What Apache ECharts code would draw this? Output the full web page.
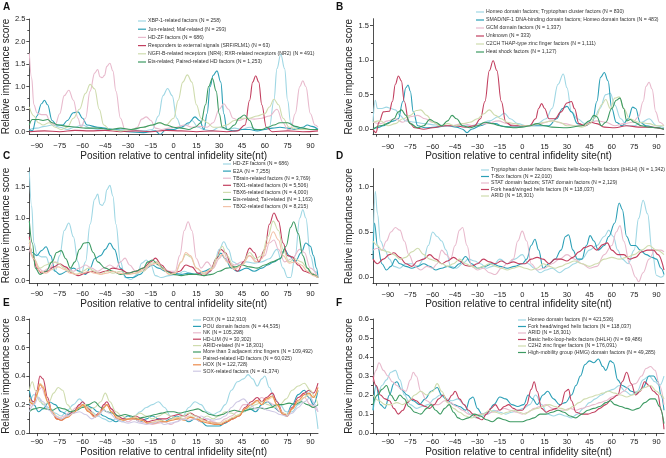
<!DOCTYPE html>
<html>
<head>
<meta charset="utf-8">
<script src="https://cdn.jsdelivr.net/npm/echarts@6/dist/echarts.min.js"></script>
<style>
  html, body { margin: 0; padding: 0; background: #fff; }
  #main { width: 666px; height: 458px; }
</style>
</head>
<body>
<div id="main"></div>
<script>
// == Tick labels ==============================================================

const xTicks = [-90, -75, -60, -45, -30, -15, 0, 15, 30, 45, 60, 75, 90]
const xMinorTicks = [-97.5, -82.5, -67.5, -52.5, -37.5, -22.5, -7.5, 7.5, 22.5, 37.5, 52.5, 67.5, 82.5]
const yTicksA = [0, 0.5, 1, 1.5, 2, 2.5]
const yMinorA = [0.25, 0.75, 1.25, 1.75, 2.25]
const yTicksBC = [0, 0.5, 1, 1.5]
const yMinorBC = [0.25, 0.75, 1.25, 1.75]
const yTicksD = [0, 0.5, 1]
const yMinorD = [0.25, 0.75]
const yTicksE = [0, 0.2, 0.4, 0.6, 0.8]
const yMinorE = [0.1, 0.3, 0.5, 0.7]
const yTicksF = [0, 0.1, 0.2, 0.3, 0.4, 0.5, 0.6]
const yMinorF = [0.05, 0.15, 0.25, 0.35, 0.45, 0.55]

// == Legend names =============================================================

const namesA = ['XBP-1-related factors (N = 258)', 'Jun-related; Maf-related (N = 293)', 'HD-ZF factors (N = 686)',
  'Responders to external signals (SRF/RLM1) (N = 63)', 'NGFI-B-related receptors (NR4); RXR-related receptors (NR2) (N = 491)',
  'Ets-related; Paired-related HD factors (N = 1,253)']
const namesB = ['Homeo domain factors; Tryptophan cluster factors (N = 830)', 'SMAD/NF-1 DNA-binding domain factors; Homeo domain factors (N = 483)',
  'GCM domain factors (N = 1,337)', 'Unknown (N = 333)', 'C2CH THAP-type zinc finger factors (N = 1,111)', 'Heat shock factors (N = 1,127)']
const namesC = ['HD-ZF factors (N = 686)', 'E2A (N = 7,255)', 'TBrain-related factors (N = 3,769)', 'TBX1-related factors (N = 5,506)',
  'TBX6-related factors (N = 4,000)', 'Ets-related; Tal-related (N = 1,163)', 'TBX2-related factors (N = 8,215)']
const namesD = ['Tryptophan cluster factors; Basic helix-loop-helix factors (bHLH) (N = 1,342)', 'T-Box factors (N = 22,010)',
  'STAT domain factors; STAT domain factors (N = 2,129)', 'Fork head/winged helix factors (N = 118,037)', 'ARID (N = 18,301)']
const namesE = ['FOX (N = 112,910)', 'POU domain factors (N = 44,535)', 'NK (N = 105,298)', 'HD-LIM (N = 30,302)', 'ARID-related (N = 18,301)',
  'More than 3 adjacent zinc fingers (N = 109,492)', 'Paired-related HD factors (N = 60,025)', 'HOX (N = 122,728)', 'SOX-related factors (N = 41,374)']
const namesF = ['Homeo domain factors (N = 421,536)', 'Fork head/winged helix factors (N = 118,037)', 'ARID (N = 18,301)',
  'Basic helix-loop-helix factors (bHLH) (N = 69,486)', 'C2H2 zinc finger factors (N = 176,091)', 'High-mobility group (HMG) domain factors (N = 49,285)']

// == Series values: [position, score] =========================================

const hdzf = [[-95,1.74],[-93.5,1.2],[-92,0.6],[-90,0.42],[-87,0.38],[-84,0.38],[-81,0.2],[-78,0.15],[-75,0.4],[-72,0.8],[-69,0.92],[-66,0.7],[-63,0.3],[-61,0.1],[-58,0.3],[-55,0.9],[-52,1.3],[-50,1.38],[-48.5,1.22],[-47,1.2],[-45.5,1.25],[-44,1.45],[-42,1.52],[-40,1.35],[-38,0.9],[-35,0.3],[-32,0.05],[-28,0.02],[-24,0.1],[-21,0.28],[-18,0.33],[-15,0.25],[-12,0.08],[-8,0.05],[-3,0.08],[2,0.1],[7,0.15],[12,0.1],[17,0.12],[22,0.1],[26,0.2],[30,0.5],[33,0.62],[36,0.5],[39,0.3],[43,0.25],[48,0.3],[53,0.28],[58,0.3],[63,0.35],[68,0.5],[72,0.2],[75,0.05],[77,0.05],[80,0.4],[83,1.0],[85,1.13],[87,1.0],[90,0.4],[93,0.15],[95,0.1]]

const aXbp1 = [[-95,0.05],[-90,0.08],[-85,0.12],[-80,0.15],[-75,0.1],[-70,0.05],[-65,0.1],[-60,0.15],[-55,0.08],[-50,0.05],[-45,0.08],[-40,0.05],[-30,0.05],[-20,0.02],[-14,0.05],[-10,0.35],[-7,0.8],[-4,0.96],[-1,0.8],[2,0.3],[5,0.1],[9,0.15],[12,0.25],[16,0.1],[20,0.05],[25,0.02],[30,0.1],[35,0.05],[40,0.08],[45,0.05],[50,0.1],[55,0.05],[60,0.05],[63,0.1],[66,0.7],[68,1.4],[70.5,1.72],[73,1.4],[75,0.7],[77,0.2],[80,0.1],[85,0.05],[90,0.05],[95,0.05]]
const aJun = [[-95,0.05],[-93,0.02],[-90,0.35],[-87,0.62],[-85,0.7],[-83,0.6],[-80,0.25],[-77,0.15],[-73,0.15],[-70,0.25],[-66,0.42],[-63,0.44],[-60,0.3],[-57,0.15],[-50,0.1],[-40,0.05],[-30,0.0],[-20,-0.02],[-12,0.02],[-9,-0.06],[-5,0.05],[0,0.05],[5,0.1],[10,0.2],[14,0.33],[17,0.25],[20,0.05],[22,0.4],[24,1.0],[26,1.25],[28.5,1.35],[31,1.1],[33,0.4],[35,0.05],[40,0.02],[45,0.05],[50,0.05],[55,0.02],[60,0.05],[65,0.08],[70,0.1],[75,0.08],[80,0.05],[85,0.1],[88,0.15],[91,0.12],[95,0.05]]
const aSrf = [[-95,0.0],[-85,0.02],[-75,0.0],[-65,0.03],[-55,0.02],[-45,0.03],[-35,0.0],[-25,0.02],[-15,0.0],[-5,0.03],[5,0.02],[15,0.0],[25,0.02],[35,0.0],[42,0.02],[47,0.15],[50,0.7],[52,1.1],[54,1.24],[56,1.1],[58,0.6],[61,0.1],[65,0.0],[75,0.02],[85,0.0],[95,0.02]]
const aNgfi = [[-95,0.55],[-92,0.35],[-89,0.2],[-86,0.15],[-82,0.2],[-78,0.1],[-74,0.05],[-70,0.1],[-66,0.3],[-62,0.5],[-58,0.85],[-55,1.05],[-52,0.95],[-49,0.5],[-46,0.15],[-42,0.05],[-35,0.02],[-28,0.05],[-20,0.1],[-14,0.15],[-10,0.2],[-5,0.15],[0,0.3],[3,0.7],[6,1.1],[9,1.26],[12,1.1],[15,0.6],[18,0.3],[22,0.2],[26,0.1],[30,0.1],[35,0.15],[40,0.25],[45,0.3],[50,0.3],[55,0.35],[60,0.4],[63,0.55],[66,0.72],[69,0.6],[72,0.3],[76,0.1],[82,0.05],[88,0.05],[95,0.05]]
const aEts = [[-95,0.15],[-93,0.27],[-89,0.27],[-86,0.25],[-83,0.27],[-80,0.2],[-76,0.15],[-70,0.12],[-64,0.1],[-58,0.08],[-50,0.08],[-42,0.05],[-35,0.08],[-28,0.05],[-20,0.1],[-14,0.15],[-9,0.2],[-5,0.15],[0,0.1],[5,0.08],[10,0.05],[14,0.1],[18,0.2],[21,0.6],[23,1.0],[25.5,1.18],[28,0.9],[30,0.4],[32,0.1],[36,0.05],[40,0.15],[43,0.3],[46.5,0.37],[50,0.25],[53,0.05],[58,0.05],[62,0.1],[66,0.15],[70,0.2],[75,0.2],[80,0.12],[85,0.08],[90,0.05],[95,0.05]]

const bHomeoTrp = [[-100,0.1],[-98.5,0.42],[-97,0.3],[-94,0.3],[-91,0.32],[-88,0.3],[-85,0.28],[-82,0.2],[-78,0.12],[-72,0.1],[-65,0.08],[-58,0.06],[-50,0.05],[-42,0.05],[-35,0.05],[-28,0.08],[-22,0.12],[-16,0.18],[-12,0.23],[-8,0.15],[-3,0.08],[3,0.05],[10,0.08],[16,0.15],[20,0.3],[24,0.65],[27.5,0.8],[30,0.6],[33,0.25],[37,0.15],[42,0.08],[48,0.15],[52,0.3],[56,0.5],[59,0.52],[62,0.35],[66,0.15],[70,0.05],[75,0.05],[80,0.1],[85,0.15],[90,0.05],[95,0.02]]
const bSmad = [[-100,0.0],[-97,0.02],[-93,0.05],[-89,0.1],[-86,0.12],[-83,0.15],[-80,0.4],[-78,0.6],[-76.5,0.64],[-75,0.55],[-73,0.25],[-70,0.05],[-65,0.02],[-58,0.03],[-50,0.05],[-44,0.03],[-40,0.0],[-37,-0.05],[-34,0.0],[-28,0.05],[-22,0.1],[-18,0.08],[-13,0.04],[-5,0.03],[5,0.05],[12,0.05],[18,0.05],[23,0.15],[27,0.3],[30,0.33],[33,0.25],[37,0.08],[42,0.05],[47,0.1],[50,0.4],[52.5,0.75],[55,0.82],[57.5,0.7],[60,0.3],[63,0.1],[67,0.05],[71,0.15],[74,0.32],[76,0.3],[79,0.1],[83,0.05],[90,0.02],[95,0.0]]
const bGcm = [[-100,0.1],[-95,0.08],[-90,0.12],[-85,0.15],[-80,0.1],[-75,0.18],[-70,0.2],[-65,0.15],[-60,0.1],[-55,0.05],[-48,0.05],[-40,0.08],[-32,0.05],[-24,0.08],[-16,0.12],[-10,0.08],[-3,0.05],[5,0.05],[12,0.08],[20,0.12],[28,0.08],[36,0.05],[44,0.08],[50,0.12],[56,0.1],[62,0.05],[68,0.08],[74,0.1],[78,0.18],[81,0.4],[83,0.62],[85,0.68],[87,0.58],[89.5,0.25],[92,0.1],[95,0.05]]
const bUnknown = [[-100,0.0],[-98,-0.05],[-96,0.1],[-93,0.25],[-89,0.26],[-87,0.4],[-85,0.65],[-83,0.77],[-81,0.7],[-79,0.4],[-76,0.1],[-72,0.02],[-66,0.0],[-60,0.02],[-52,0.05],[-45,0.05],[-38,0.03],[-32,0.05],[-28,0.15],[-25,0.4],[-22,0.85],[-19.5,0.99],[-17,0.85],[-14,0.4],[-11,0.1],[-7,0.05],[0,0.05],[5,0.05],[9,0.15],[11,0.3],[13,0.37],[15,0.3],[18,0.15],[22,0.15],[26,0.25],[30,0.38],[33,0.4],[35,0.3],[38,0.08],[42,0.05],[46,0.1],[50,0.08],[55,0.03],[62,0.02],[70,0.05],[78,0.03],[86,0.03],[95,0.0]]
const bThap = [[-100,0.1],[-95,0.12],[-90,0.05],[-85,0.08],[-80,0.15],[-75,0.2],[-71,0.27],[-68,0.28],[-64,0.2],[-60,0.1],[-55,0.05],[-50,0.08],[-45,0.05],[-40,0.08],[-35,0.1],[-30,0.15],[-26,0.22],[-22,0.28],[-18,0.2],[-14,0.15],[-10,0.1],[-5,0.08],[0,0.05],[5,0.05],[10,0.08],[15,0.1],[20,0.12],[25,0.1],[30,0.05],[35,0.05],[40,0.03],[45,0.08],[50,0.2],[53,0.35],[56,0.43],[59,0.3],[62,0.45],[65,0.47],[68,0.3],[72,0.15],[78,0.1],[85,0.08],[90,0.05],[95,0.05]]
const bHeat = [[-100,0.0],[-95,0.05],[-90,0.08],[-86,0.15],[-83,0.25],[-81,0.28],[-78,0.2],[-75,0.08],[-70,0.02],[-66,0.05],[-62,0.14],[-58,0.1],[-54,0.05],[-50,0.12],[-47,0.2],[-44,0.15],[-40,0.05],[-35,0.02],[-30,0.05],[-25,0.1],[-20,0.08],[-15,0.05],[-10,0.03],[-5,0.02],[0,0.03],[5,0.05],[10,0.08],[15,0.05],[20,0.03],[30,0.02],[40,0.05],[45,0.12],[48,0.2],[50,0.18],[53,0.05],[56,0.1],[60,0.3],[63,0.42],[65.5,0.45],[68,0.3],[70,0.12],[72.5,0.14],[75,0.1],[80,0.05],[85,0.03],[90,0.02],[95,0.0]]

const cE2a = [[-95,0.6],[-93,0.45],[-90,0.4],[-87,0.48],[-84,0.54],[-81,0.4],[-78,0.15],[-75,0.1],[-70,0.15],[-66,0.2],[-62,0.15],[-58,0.1],[-55,0.2],[-52,0.35],[-48,0.4],[-45,0.5],[-42,0.6],[-39,0.5],[-35,0.2],[-31,0.05],[-27,0.05],[-22,0.1],[-18,0.2],[-14,0.25],[-10,0.2],[-5,0.15],[0,0.12],[5,0.1],[10,0.12],[15,0.1],[20,0.15],[25,0.2],[28,0.35],[31,0.44],[34,0.35],[38,0.2],[42,0.15],[48,0.2],[53,0.15],[58,0.2],[62,0.25],[66,0.3],[70,0.35],[73,0.5],[76,0.4],[80,0.3],[84,0.45],[87,0.6],[90,0.55],[92,0.4],[94,0.2],[95,0.05]]
const cTbrain = [[-95,0.5],[-92,0.35],[-89,0.2],[-86,0.15],[-82,0.2],[-78,0.3],[-74,0.25],[-70,0.2],[-66,0.15],[-62,0.2],[-58,0.25],[-54,0.2],[-50,0.15],[-46,0.2],[-42,0.25],[-38,0.2],[-35,0.3],[-32,0.36],[-29,0.25],[-25,0.15],[-20,0.15],[-15,0.25],[-11,0.3],[-7,0.2],[-3,0.15],[1,0.15],[4,0.4],[7,0.8],[9.5,0.94],[12,0.8],[15,0.35],[18,0.2],[22,0.3],[26,0.2],[30,0.35],[33,0.45],[36,0.3],[40,0.25],[45,0.3],[50,0.4],[55,0.3],[60,0.4],[63,0.6],[66,0.65],[69,0.5],[73,0.3],[78,0.35],[83,0.5],[86,0.45],[90,0.2],[95,0.05]]
const cTbx1 = [[-95,0.7],[-93,0.4],[-90,0.2],[-87,0.12],[-83,0.15],[-79,0.22],[-75,0.27],[-71,0.22],[-67,0.12],[-63,0.08],[-58,0.12],[-54,0.15],[-50,0.12],[-45,0.15],[-40,0.2],[-35,0.18],[-30,0.12],[-25,0.15],[-20,0.2],[-15,0.3],[-12,0.36],[-8,0.25],[-4,0.15],[0,0.12],[4,0.15],[8,0.25],[12,0.22],[16,0.12],[20,0.08],[24,0.15],[28,0.35],[31,0.5],[34,0.45],[38,0.25],[42,0.15],[46,0.3],[50,0.52],[53,0.45],[56,0.3],[60,0.5],[63,0.9],[66,1.08],[69,0.95],[72,0.6],[75,0.4],[78,0.38],[82,0.25],[86,0.15],[90,0.12],[95,0.05]]
const cTbx6 = [[-95,0.65],[-92,0.35],[-88,0.2],[-84,0.25],[-80,0.3],[-76,0.28],[-72,0.2],[-68,0.15],[-64,0.1],[-60,0.15],[-56,0.2],[-52,0.15],[-48,0.1],[-44,0.15],[-40,0.12],[-35,0.15],[-30,0.1],[-25,0.12],[-20,0.15],[-15,0.28],[-11,0.3],[-7,0.2],[-3,0.1],[1,0.12],[5,0.3],[8,0.42],[11,0.38],[15,0.2],[20,0.1],[25,0.2],[29,0.4],[32,0.55],[35,0.4],[40,0.2],[45,0.25],[50,0.45],[54,0.35],[58,0.4],[62,0.7],[65.5,0.95],[69,0.8],[72,0.5],[76,0.3],[80,0.35],[84,0.3],[88,0.2],[92,0.1],[95,0.05]]
const cEtsTal = [[-95,0.95],[-93,0.6],[-91,0.2],[-88,0.1],[-84,0.15],[-80,0.3],[-77,0.45],[-74,0.48],[-71,0.35],[-68,0.2],[-65,0.3],[-62,0.5],[-59,0.6],[-56,0.61],[-53,0.45],[-50,0.3],[-45,0.2],[-40,0.15],[-35,0.1],[-30,0.12],[-25,0.15],[-20,0.2],[-17,0.3],[-14,0.33],[-10,0.25],[-5,0.15],[0,0.1],[5,0.08],[10,0.1],[15,0.1],[20,0.08],[25,0.1],[30,0.15],[35,0.2],[40,0.22],[45,0.25],[50,0.22],[55,0.2],[60,0.25],[65,0.3],[70,0.35],[74,0.55],[77,0.85],[79,0.94],[82,0.75],[85,0.4],[88,0.2],[91,0.1],[95,0.05]]
const cTbx2 = [[-95,0.6],[-92,0.35],[-88,0.15],[-84,0.12],[-80,0.18],[-76,0.22],[-72,0.18],[-68,0.12],[-64,0.1],[-60,0.12],[-56,0.15],[-52,0.12],[-48,0.1],[-44,0.12],[-40,0.15],[-36,0.12],[-30,0.1],[-25,0.12],[-20,0.18],[-15,0.25],[-11,0.28],[-7,0.18],[-3,0.1],[1,0.12],[5,0.3],[8,0.45],[11,0.4],[15,0.2],[20,0.12],[25,0.18],[29,0.35],[32,0.42],[35,0.3],[40,0.18],[45,0.25],[50,0.4],[54,0.3],[58,0.35],[62,0.6],[65.5,0.78],[69,0.65],[72,0.4],[76,0.28],[80,0.3],[84,0.25],[88,0.15],[92,0.08],[95,0.05]]

const dTrpBhlh = [[-100,0.3],[-98.5,0.95],[-97,0.7],[-95,0.4],[-92,0.3],[-89,0.2],[-86,0.12],[-82,0.1],[-78,0.15],[-74,0.15],[-70,0.12],[-66,0.2],[-63,0.35],[-60,0.5],[-57,0.45],[-54,0.4],[-51,0.3],[-48,0.12],[-44,0.1],[-40,0.15],[-36,0.2],[-32,0.18],[-28,0.15],[-24,0.1],[-20,0.12],[-15,0.2],[-10,0.15],[-5,0.2],[0,0.25],[4,0.15],[8,0.1],[12,0.05],[16,0.08],[20,0.1],[25,0.05],[30,0.1],[35,0.15],[40,0.2],[45,0.3],[50,0.35],[55,0.45],[58,0.52],[61,0.45],[64,0.3],[67,0.2],[71,0.15],[75,0.3],[78,0.65],[81,0.85],[84,0.7],[87,0.3],[90,0.02],[93,0.0],[95,0.02]]
const dTbox = [[-100,0.2],[-99,0.6],[-97,0.35],[-94,0.15],[-91,0.08],[-88,0.12],[-85,0.2],[-82,0.15],[-78,0.12],[-74,0.1],[-70,0.12],[-66,0.15],[-62,0.12],[-58,0.08],[-54,0.1],[-50,0.12],[-46,0.1],[-42,0.15],[-38,0.23],[-34,0.15],[-30,0.1],[-25,0.12],[-20,0.15],[-15,0.12],[-10,0.1],[-5,0.12],[0,0.15],[3,0.2],[6,0.35],[8.5,0.42],[11,0.3],[14,0.1],[18,0.15],[22,0.2],[26,0.3],[29,0.45],[31,0.47],[34,0.3],[37,0.2],[40,0.2],[43,0.35],[45.5,0.46],[48,0.4],[51,0.3],[55,0.35],[58,0.45],[62,0.6],[65,0.82],[67,0.75],[70,0.45],[73,0.35],[76,0.35],[79,0.3],[83,0.25],[87,0.22],[90,0.2],[93,0.1],[95,0.03]]
const dStat = [[-100,0.3],[-97,0.32],[-94,0.3],[-91,0.4],[-88,0.5],[-85,0.55],[-82,0.52],[-79,0.4],[-76,0.25],[-72,0.12],[-68,0.08],[-64,0.12],[-60,0.1],[-57,0.15],[-54,0.3],[-51,0.25],[-48,0.2],[-45,0.35],[-42,0.52],[-40,0.55],[-37,0.35],[-34,0.12],[-30,0.08],[-26,0.1],[-22,0.05],[-18,0.03],[-14,0.1],[-10,0.15],[-6,0.2],[-3,0.4],[0,0.51],[3,0.4],[6,0.15],[10,0.08],[15,0.1],[20,0.15],[25,0.2],[30,0.25],[35,0.2],[40,0.15],[45,0.1],[50,0.12],[55,0.25],[60,0.35],[63,0.5],[65.5,0.57],[68,0.4],[72,0.15],[76,0.0],[78,-0.05],[81,0.05],[85,0.2],[89,0.3],[93,0.3],[95,0.28]]
const dForkhead = [[-100,0.2],[-97,0.15],[-93,0.2],[-89,0.25],[-86,0.27],[-82,0.22],[-78,0.15],[-74,0.12],[-70,0.18],[-66,0.2],[-62,0.25],[-58,0.2],[-54,0.15],[-50,0.18],[-46,0.22],[-42,0.18],[-38,0.13],[-34,0.12],[-30,0.15],[-26,0.2],[-22,0.17],[-18,0.15],[-14,0.18],[-10,0.15],[-6,0.17],[-2,0.15],[2,0.15],[6,0.2],[10,0.22],[14,0.2],[18,0.15],[22,0.2],[26,0.2],[30,0.18],[34,0.22],[38,0.28],[42,0.33],[46,0.35],[50,0.3],[54,0.36],[57,0.38],[60,0.3],[64,0.25],[68,0.25],[72,0.2],[76,0.22],[80,0.28],[84,0.3],[88,0.3],[91,0.25],[95,0.08]]
const dArid = [[-100,0.4],[-97,0.35],[-94,0.3],[-90,0.28],[-86,0.25],[-82,0.2],[-78,0.22],[-74,0.28],[-70,0.32],[-66,0.25],[-62,0.2],[-58,0.18],[-54,0.15],[-50,0.12],[-46,0.15],[-42,0.2],[-38,0.15],[-34,0.12],[-30,0.1],[-26,0.12],[-22,0.15],[-18,0.12],[-14,0.1],[-10,0.08],[-6,0.1],[-2,0.12],[2,0.1],[6,0.08],[10,0.1],[14,0.15],[18,0.12],[22,0.1],[26,0.12],[30,0.15],[35,0.18],[40,0.15],[45,0.12],[50,0.15],[55,0.2],[60,0.22],[65,0.2],[70,0.22],[75,0.25],[80,0.3],[85,0.35],[90,0.3],[95,0.25]]

const eFox = [[-95,0.2],[-92,0.27],[-89,0.25],[-86,0.2],[-82,0.18],[-78,0.14],[-74,0.12],[-70,0.16],[-66,0.2],[-62,0.24],[-58,0.2],[-54,0.15],[-50,0.12],[-46,0.1],[-42,0.08],[-38,0.1],[-34,0.08],[-30,0.1],[-26,0.12],[-22,0.15],[-18,0.18],[-14,0.2],[-10,0.22],[-6,0.18],[-2,0.12],[2,0.1],[6,0.12],[10,0.18],[14,0.22],[18,0.2],[22,0.15],[26,0.13],[30,0.15],[34,0.2],[38,0.3],[42,0.36],[46,0.38],[49,0.41],[52,0.38],[55,0.33],[58,0.38],[60,0.4],[63,0.32],[66,0.25],[70,0.2],[74,0.15],[78,0.15],[82,0.2],[86,0.25],[89,0.3],[92,0.2],[95,0.03]]
const ePou = [[-95,0.3],[-92,0.2],[-89,0.15],[-86,0.17],[-82,0.22],[-78,0.2],[-74,0.15],[-70,0.13],[-66,0.15],[-62,0.18],[-58,0.2],[-54,0.18],[-50,0.15],[-46,0.12],[-42,0.1],[-38,0.08],[-34,0.1],[-30,0.12],[-26,0.1],[-22,0.08],[-18,0.1],[-14,0.12],[-10,0.1],[-6,0.08],[-2,0.1],[2,0.12],[6,0.1],[10,0.08],[14,0.1],[18,0.08],[22,0.05],[26,0.05],[30,0.05],[34,0.07],[38,0.1],[42,0.12],[46,0.15],[50,0.17],[54,0.15],[58,0.2],[62,0.22],[66,0.18],[70,0.15],[74,0.12],[78,0.2],[82,0.27],[86,0.3],[89,0.25],[92,0.2],[95,0.3]]
const eNk = [[-95,0.18],[-92,0.22],[-89,0.3],[-87,0.32],[-84,0.25],[-80,0.15],[-76,0.1],[-72,0.12],[-68,0.15],[-64,0.18],[-60,0.2],[-56,0.15],[-52,0.12],[-48,0.15],[-45,0.2],[-42,0.18],[-38,0.12],[-34,0.1],[-30,0.08],[-26,0.1],[-22,0.08],[-18,0.07],[-14,0.06],[-10,0.07],[-6,0.08],[-2,0.06],[2,0.08],[6,0.1],[10,0.12],[14,0.1],[18,0.08],[22,0.1],[26,0.08],[30,0.07],[34,0.1],[38,0.12],[42,0.15],[46,0.2],[50,0.2],[54,0.22],[58,0.25],[62,0.22],[66,0.2],[70,0.15],[74,0.12],[78,0.18],[82,0.22],[86,0.25],[90,0.2],[95,0.15]]
const eHdlim = [[-95,0.25],[-92,0.22],[-90,0.3],[-88,0.4],[-86,0.38],[-83,0.25],[-80,0.15],[-77,0.1],[-74,0.09],[-70,0.12],[-66,0.15],[-62,0.2],[-60,0.22],[-56,0.17],[-52,0.12],[-49,0.14],[-46,0.2],[-44,0.22],[-41,0.17],[-37,0.12],[-33,0.1],[-29,0.1],[-25,0.12],[-21,0.1],[-17,0.08],[-13,0.09],[-9,0.1],[-5,0.1],[-1,0.12],[3,0.13],[7,0.12],[11,0.14],[15,0.12],[19,0.1],[23,0.08],[27,0.07],[31,0.06],[35,0.08],[39,0.1],[43,0.12],[47,0.18],[51,0.22],[55,0.25],[58,0.22],[61,0.25],[65,0.28],[68,0.22],[72,0.14],[75,0.12],[78,0.18],[82,0.25],[86,0.28],[89,0.3],[92,0.28],[95,0.35]]
const eAridRel = [[-95,0.3],[-93,0.36],[-91,0.3],[-88,0.22],[-85,0.2],[-82,0.22],[-79,0.28],[-76,0.32],[-73,0.3],[-70,0.2],[-66,0.15],[-62,0.18],[-58,0.2],[-55,0.17],[-52,0.18],[-48,0.22],[-45,0.28],[-42,0.22],[-38,0.15],[-34,0.12],[-30,0.1],[-26,0.12],[-22,0.14],[-18,0.12],[-14,0.1],[-10,0.12],[-6,0.14],[-2,0.12],[2,0.1],[6,0.12],[10,0.14],[14,0.12],[18,0.1],[22,0.12],[26,0.1],[30,0.12],[34,0.15],[38,0.14],[42,0.12],[46,0.15],[50,0.18],[54,0.2],[58,0.22],[62,0.2],[66,0.18],[70,0.2],[74,0.24],[78,0.3],[82,0.33],[86,0.35],[90,0.3],[93,0.25],[95,0.2]]
const eZinc = [[-95,0.15],[-92,0.17],[-88,0.18],[-84,0.17],[-80,0.16],[-76,0.18],[-72,0.17],[-68,0.15],[-64,0.16],[-60,0.18],[-56,0.2],[-52,0.22],[-48,0.18],[-44,0.15],[-40,0.14],[-36,0.12],[-32,0.13],[-28,0.12],[-24,0.1],[-20,0.11],[-16,0.12],[-12,0.13],[-8,0.14],[-4,0.15],[0,0.15],[4,0.14],[8,0.15],[12,0.16],[16,0.17],[20,0.15],[24,0.13],[28,0.12],[32,0.13],[36,0.15],[40,0.16],[44,0.15],[48,0.16],[52,0.17],[56,0.18],[60,0.17],[64,0.18],[68,0.2],[72,0.2],[76,0.21],[80,0.2],[84,0.22],[88,0.2],[92,0.18],[95,0.2]]
const ePaired = [[-95,0.25],[-92,0.2],[-90,0.28],[-88,0.35],[-86,0.33],[-83,0.22],[-80,0.15],[-77,0.12],[-74,0.1],[-70,0.12],[-66,0.14],[-62,0.18],[-59,0.2],[-55,0.15],[-51,0.12],[-47,0.16],[-44,0.2],[-41,0.15],[-37,0.11],[-33,0.09],[-29,0.1],[-25,0.11],[-21,0.09],[-17,0.07],[-13,0.08],[-9,0.09],[-5,0.08],[-1,0.1],[3,0.11],[7,0.1],[11,0.12],[15,0.1],[19,0.09],[23,0.08],[27,0.07],[31,0.07],[35,0.09],[39,0.11],[43,0.13],[47,0.17],[51,0.2],[55,0.22],[58,0.2],[61,0.23],[65,0.25],[68,0.2],[72,0.14],[75,0.13],[78,0.17],[82,0.22],[86,0.25],[89,0.27],[92,0.25],[95,0.3]]
const eHox = [[-95,0.22],[-92,0.2],[-90,0.27],[-88,0.34],[-86,0.32],[-83,0.22],[-80,0.14],[-77,0.1],[-74,0.09],[-70,0.11],[-66,0.14],[-62,0.18],[-60,0.2],[-56,0.15],[-52,0.11],[-49,0.13],[-46,0.18],[-44,0.2],[-41,0.15],[-37,0.1],[-33,0.09],[-29,0.1],[-25,0.1],[-21,0.09],[-17,0.07],[-13,0.07],[-9,0.08],[-5,0.08],[-1,0.09],[3,0.1],[7,0.09],[11,0.11],[15,0.1],[19,0.08],[23,0.07],[27,0.06],[31,0.06],[35,0.08],[39,0.1],[43,0.12],[47,0.17],[51,0.2],[55,0.23],[58,0.2],[61,0.24],[65,0.26],[68,0.2],[72,0.13],[75,0.12],[78,0.17],[82,0.23],[86,0.27],[89,0.28],[92,0.25],[95,0.32]]
const eSox = [[-95,0.15],[-92,0.2],[-89,0.25],[-86,0.22],[-82,0.16],[-78,0.12],[-74,0.1],[-70,0.12],[-66,0.14],[-62,0.15],[-58,0.13],[-54,0.1],[-50,0.12],[-46,0.16],[-42,0.14],[-38,0.1],[-34,0.08],[-30,0.07],[-26,0.08],[-22,0.07],[-18,0.06],[-14,0.07],[-10,0.08],[-6,0.06],[-2,0.07],[2,0.08],[6,0.1],[10,0.09],[14,0.1],[18,0.12],[22,0.1],[26,0.09],[30,0.1],[34,0.12],[38,0.18],[42,0.22],[46,0.24],[50,0.2],[54,0.17],[58,0.18],[62,0.16],[66,0.15],[70,0.13],[74,0.12],[78,0.14],[82,0.18],[86,0.22],[90,0.25],[93,0.2],[95,0.15]]

const fHomeo = [[-100,0.12],[-97,0.2],[-94,0.25],[-91,0.28],[-88,0.32],[-85,0.33],[-82,0.28],[-79,0.2],[-75,0.15],[-71,0.13],[-67,0.14],[-63,0.15],[-59,0.18],[-55,0.2],[-51,0.18],[-47,0.17],[-43,0.18],[-39,0.15],[-35,0.1],[-31,0.08],[-27,0.09],[-23,0.1],[-19,0.12],[-15,0.11],[-11,0.1],[-7,0.11],[-3,0.12],[1,0.13],[5,0.15],[9,0.2],[13,0.15],[17,0.1],[21,0.09],[25,0.1],[29,0.09],[33,0.08],[37,0.1],[41,0.13],[45,0.16],[49,0.18],[53,0.2],[57,0.22],[61,0.23],[65,0.25],[69,0.22],[73,0.2],[77,0.22],[81,0.28],[85,0.3],[89,0.27],[92,0.25],[95,0.3]]
const fForkhead = [[-100,0.12],[-98,0.25],[-95,0.15],[-92,0.13],[-89,0.2],[-86,0.26],[-84,0.27],[-81,0.23],[-77,0.2],[-73,0.17],[-69,0.15],[-65,0.18],[-61,0.22],[-57,0.24],[-54,0.2],[-50,0.17],[-46,0.15],[-42,0.14],[-38,0.12],[-35,0.18],[-33,0.19],[-30,0.13],[-27,0.1],[-23,0.11],[-19,0.15],[-15,0.19],[-11,0.18],[-7,0.15],[-3,0.14],[1,0.15],[4,0.2],[7,0.18],[10,0.15],[14,0.2],[17,0.22],[21,0.18],[25,0.15],[29,0.16],[33,0.2],[36,0.25],[39,0.3],[42,0.36],[45,0.38],[48,0.37],[51,0.39],[54,0.35],[56,0.33],[59,0.38],[61,0.37],[64,0.28],[67,0.25],[70,0.24],[73,0.22],[77,0.21],[81,0.24],[85,0.3],[88,0.3],[91,0.27],[93,0.2],[95,0.12]]
const fArid = [[-100,0.27],[-98,0.33],[-96,0.37],[-93,0.33],[-90,0.3],[-87,0.27],[-84,0.25],[-81,0.23],[-78,0.22],[-75,0.28],[-73,0.32],[-71,0.3],[-68,0.22],[-64,0.17],[-60,0.15],[-56,0.15],[-52,0.17],[-48,0.16],[-44,0.14],[-40,0.12],[-36,0.1],[-32,0.09],[-28,0.1],[-24,0.1],[-20,0.11],[-16,0.12],[-12,0.13],[-8,0.12],[-4,0.11],[0,0.1],[4,0.11],[8,0.13],[12,0.14],[16,0.15],[20,0.13],[24,0.12],[28,0.12],[32,0.13],[36,0.12],[40,0.13],[44,0.14],[48,0.15],[52,0.16],[56,0.17],[60,0.19],[64,0.2],[68,0.22],[72,0.25],[76,0.26],[80,0.3],[83,0.34],[86,0.35],[89,0.33],[92,0.25],[95,0.15]]
const fBhlh = [[-100,0.3],[-98,0.25],[-95,0.2],[-92,0.18],[-89,0.17],[-86,0.13],[-83,0.1],[-80,0.12],[-77,0.16],[-74,0.18],[-71,0.17],[-68,0.15],[-65,0.14],[-62,0.13],[-59,0.15],[-56,0.18],[-53,0.2],[-50,0.17],[-47,0.2],[-45,0.22],[-42,0.18],[-39,0.15],[-36,0.12],[-33,0.1],[-30,0.08],[-27,0.07],[-24,0.1],[-21,0.13],[-18,0.15],[-15,0.12],[-12,0.14],[-9,0.15],[-6,0.13],[-3,0.12],[0,0.12],[3,0.15],[6,0.23],[8,0.27],[10,0.22],[13,0.13],[16,0.11],[19,0.12],[23,0.13],[26,0.15],[29,0.22],[31,0.23],[33,0.17],[36,0.11],[40,0.1],[44,0.1],[48,0.11],[52,0.13],[56,0.15],[60,0.18],[64,0.2],[67,0.27],[70,0.32],[73,0.26],[76,0.2],[79,0.22],[82,0.27],[85,0.25],[88,0.22],[91,0.2],[93,0.12],[95,0.02]]
const fC2h2 = [[-100,0.2],[-96,0.17],[-92,0.15],[-88,0.15],[-84,0.16],[-80,0.15],[-76,0.17],[-72,0.2],[-68,0.22],[-64,0.2],[-60,0.22],[-57,0.26],[-54,0.22],[-50,0.16],[-46,0.13],[-42,0.11],[-38,0.09],[-34,0.08],[-30,0.09],[-26,0.1],[-22,0.12],[-18,0.11],[-14,0.1],[-10,0.11],[-6,0.12],[-2,0.11],[2,0.1],[6,0.12],[10,0.13],[14,0.14],[18,0.15],[22,0.14],[26,0.13],[30,0.12],[34,0.14],[38,0.16],[42,0.18],[46,0.19],[50,0.2],[54,0.21],[58,0.22],[62,0.21],[66,0.2],[70,0.19],[74,0.2],[78,0.22],[82,0.24],[86,0.25],[90,0.22],[93,0.2],[95,0.18]]
const fHmg = [[-100,0.15],[-97,0.2],[-94,0.23],[-91,0.25],[-88,0.2],[-85,0.17],[-82,0.2],[-79,0.18],[-76,0.14],[-72,0.11],[-68,0.1],[-64,0.13],[-61,0.15],[-58,0.12],[-55,0.1],[-52,0.13],[-49,0.15],[-46,0.11],[-43,0.08],[-40,0.07],[-36,0.08],[-32,0.1],[-28,0.09],[-24,0.07],[-20,0.06],[-16,0.08],[-12,0.07],[-8,0.06],[-4,0.06],[0,0.06],[4,0.07],[8,0.08],[12,0.1],[16,0.1],[20,0.11],[24,0.12],[28,0.11],[32,0.09],[36,0.08],[40,0.1],[44,0.12],[48,0.13],[52,0.14],[56,0.16],[59,0.17],[62,0.15],[66,0.14],[70,0.13],[74,0.12],[78,0.13],[82,0.16],[86,0.18],[89,0.18],[92,0.14],[95,0.05]]

// == Styles ===================================================================

const C = {
  lightCyan: '#9fd7e4', teal: '#2a9fb6', lightPink: '#e8bacd', crimson: '#c23f5f',
  lightGreen: '#cfdcae', green: '#3c9a62', lightOrange: '#f2c2a8', tan: '#ecd39b',
  orange: '#ec8b4b', lavender: '#cec8e4'
}
const FONT = 'Liberation Sans, Arial, Helvetica, sans-serif'
const XTITLE = 'Position relative to central infidelity site(nt)'

const panels = [
  { letter: 'A', lx: 3, ly: 2, grid: { left: 28, top: 19, width: 290, height: 115 }, x: [-95, 95], y: [-0.05, 2.5],
    yt: yTicksA, ym: yMinorA, leg: { left: 138, top: 18, gap: 2.2 }, labMargin: 8, nameGap: 17,
    names: namesA, series: [aXbp1, aJun, hdzf, aSrf, aNgfi, aEts],
    colors: [C.lightCyan, C.teal, C.lightPink, C.crimson, C.lightGreen, C.green] },
  { letter: 'B', lx: 336, ly: 2, grid: { left: 373, top: 18.7, width: 291, height: 116 }, x: [-100, 95], y: [-0.08, 1.6],
    yt: yTicksBC, ym: yMinorBC, leg: { left: 476, top: 9, gap: 2 }, labMargin: 8, nameGap: 17,
    names: namesB, series: [bHomeoTrp, bSmad, bGcm, bUnknown, bThap, bHeat],
    colors: [C.lightCyan, C.teal, C.lightPink, C.crimson, C.lightGreen, C.green] },
  { letter: 'C', lx: 3, ly: 151, grid: { left: 28, top: 167.8, width: 290, height: 115.4 }, x: [-95, 95], y: [-0.04, 1.8],
    yt: yTicksBC, ym: yMinorBC, leg: { left: 223, top: 161, gap: 1.1 }, labMargin: 7, nameGap: 16,
    names: namesC, series: [hdzf, cE2a, cTbrain, cTbx1, cTbx6, cEtsTal, cTbx2],
    colors: [C.lightCyan, C.teal, C.lightPink, C.crimson, C.lightGreen, C.green, C.lightOrange] },
  { letter: 'D', lx: 336, ly: 151, grid: { left: 373, top: 168.6, width: 291, height: 115 }, x: [-100, 95], y: [-0.07, 1.2],
    yt: yTicksD, ym: yMinorD, leg: { left: 481, top: 167, gap: 0.5 }, labMargin: 7, nameGap: 16,
    names: namesD, series: [dTrpBhlh, dTbox, dStat, dForkhead, dArid],
    colors: [C.lightCyan, C.teal, C.lightPink, C.crimson, C.lightGreen] },
  { letter: 'E', lx: 3, ly: 298, grid: { left: 28, top: 319, width: 290, height: 117 }, x: [-95, 95], y: [0, 0.8],
    yt: yTicksE, ym: yMinorE, leg: { left: 193, top: 317, gap: 0.4 }, labMargin: 5, nameGap: 12,
    names: namesE, series: [eFox, ePou, eNk, eHdlim, eAridRel, eZinc, ePaired, eHox, eSox],
    colors: [C.lightCyan, C.teal, C.lightPink, C.crimson, C.lightGreen, C.green, C.tan, C.orange, C.lavender] },
  { letter: 'F', lx: 336, ly: 298, grid: { left: 373, top: 319, width: 291, height: 117 }, x: [-100, 95], y: [0, 0.6],
    yt: yTicksF, ym: yMinorF, leg: { left: 518, top: 317, gap: 0.5 }, labMargin: 5, nameGap: 12,
    names: namesF, series: [fHomeo, fForkhead, fArid, fBhlh, fC2h2, fHmg],
    colors: [C.lightCyan, C.teal, C.lightPink, C.crimson, C.lightGreen, C.green] }
]

// == Build option =============================================================

const grid = [], xAxis = [], yAxis = [], series = [], legend = [], graphic = []
const axisColor = '#222'
const tickStyle = { color: axisColor, width: 0.8 }

panels.forEach((p, i) => {
  grid.push(Object.assign({ containLabel: false }, p.grid))
  const xi = xAxis.length, yi = yAxis.length
  // main x axis: line, major ticks, labels, title
  xAxis.push({
    gridIndex: i, type: 'value', min: p.x[0], max: p.x[1], position: 'bottom',
    axisLine: { show: true, onZero: false, lineStyle: tickStyle },
    axisTick: { show: true, customValues: xTicks, length: 3, lineStyle: tickStyle },
    axisLabel: { customValues: xTicks, fontSize: 7.5, color: '#222', margin: p.labMargin, fontFamily: FONT,
      formatter: v => String(v).replace('-', '\u2212') },
    splitLine: { show: false },
    name: XTITLE, nameLocation: 'middle', nameGap: p.nameGap,
    nameTextStyle: { fontSize: 10, color: '#222', fontFamily: FONT }
  })
  // minor x ticks
  xAxis.push({
    gridIndex: i, type: 'value', min: p.x[0], max: p.x[1], position: 'bottom',
    axisLine: { show: false, onZero: false }, axisLabel: { show: false }, splitLine: { show: false },
    axisTick: { show: true, customValues: xMinorTicks.filter(v => v > p.x[0] && v < p.x[1]), length: 2, lineStyle: tickStyle }
  })
  yAxis.push({
    gridIndex: i, type: 'value', min: p.y[0], max: p.y[1], position: 'left',
    axisLine: { show: true, onZero: false, lineStyle: tickStyle },
    axisTick: { show: true, customValues: p.yt, length: 3, lineStyle: tickStyle },
    axisLabel: { customValues: p.yt, fontSize: 7.5, color: '#222', margin: 4, fontFamily: FONT,
      formatter: v => v.toFixed(1) },
    splitLine: { show: false },
    name: 'Relative importance score', nameLocation: 'middle', nameGap: 16,
    nameTextStyle: { fontSize: 10, color: '#222', fontFamily: FONT }
  })
  // minor y ticks
  yAxis.push({
    gridIndex: i, type: 'value', min: p.y[0], max: p.y[1], position: 'left',
    axisLine: { show: false, onZero: false }, axisLabel: { show: false }, splitLine: { show: false },
    axisTick: { show: true, customValues: p.ym, length: 2, lineStyle: tickStyle }
  })

  const legendNames = []
  p.series.forEach((d, k) => {
    const name = p.letter + '|' + p.names[k]
    legendNames.push(name)
    series.push({
      type: 'line', name, xAxisIndex: xi, yAxisIndex: yi, data: d,
      smooth: 0.4, smoothMonotone: 'x', symbol: 'none', silent: true,
      lineStyle: { width: 1.1, color: p.colors[k] }, itemStyle: { color: p.colors[k] }
    })
  })
  legend.push({
    data: legendNames, orient: 'vertical', left: p.leg.left, top: p.leg.top,
    icon: 'rect', itemWidth: 8, itemHeight: 1.2, itemGap: p.leg.gap, padding: 0, selectedMode: false,
    formatter: n => n.slice(2),
    textStyle: { fontSize: 5.2, lineHeight: 6, color: '#333', fontFamily: FONT, padding: [0, 0, 0, -3] }
  })
  graphic.push({ type: 'text', left: p.lx, top: p.ly,
    style: { text: p.letter, font: 'bold 10px ' + FONT, fill: '#111' } })
})

const chart = echarts.init(document.getElementById('main'), null, { renderer: 'canvas' })
chart.setOption({
  animation: false,
  backgroundColor: '#fff',
  textStyle: { fontFamily: FONT },
  grid, xAxis, yAxis, series, legend, graphic
})
</script>
</body>
</html>
